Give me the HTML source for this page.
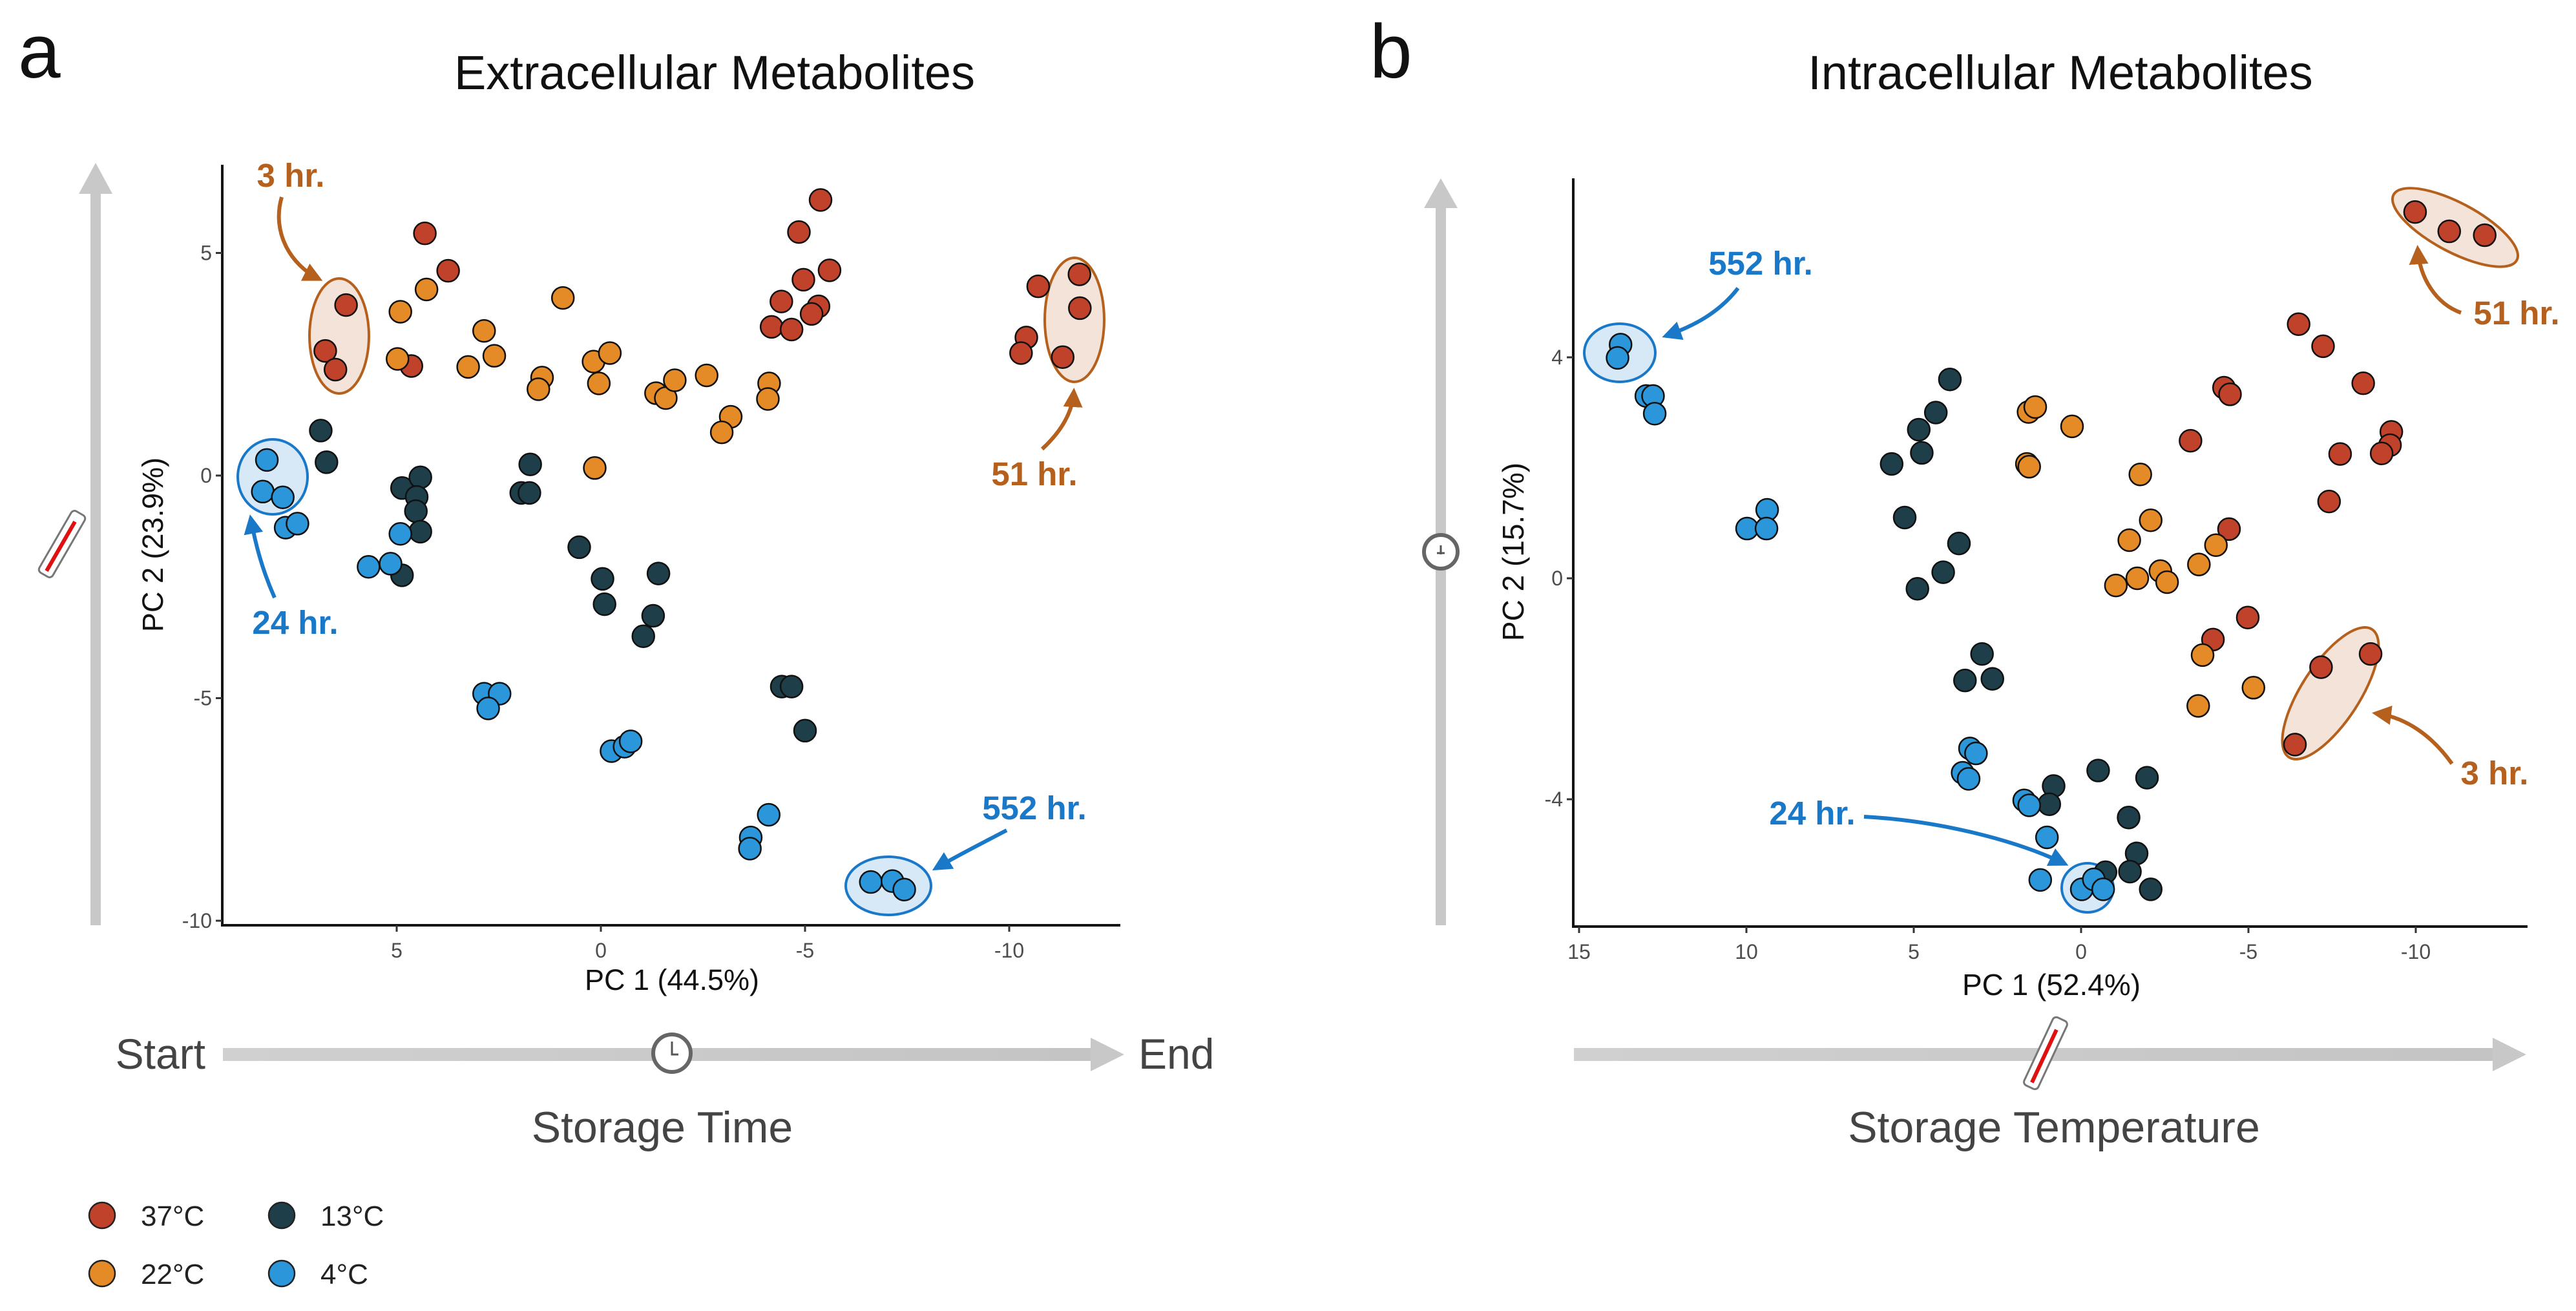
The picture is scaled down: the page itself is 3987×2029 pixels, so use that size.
<!DOCTYPE html>
<html><head><meta charset="utf-8"><style>
html,body{margin:0;padding:0;background:#fff;}
svg{display:block;font-family:"Liberation Sans",sans-serif;}
</style></head><body>
<svg id="fig" width="3987" height="2029" viewBox="0 0 3987 2029" xmlns="http://www.w3.org/2000/svg">
<defs>
<linearGradient id="gh" x1="0" x2="1"><stop offset="0" stop-color="#d0d0d0"/><stop offset="1" stop-color="#c4c4c4"/></linearGradient>
<marker id="ab" viewBox="0 0 10 10" refX="8" refY="5" markerWidth="5" markerHeight="5" orient="auto"><path d="M0,0 L10,5 L0,10 z" fill="#1a78c9"/></marker>
<marker id="ao" viewBox="0 0 10 10" refX="8" refY="5" markerWidth="5" markerHeight="5" orient="auto"><path d="M0,0 L10,5 L0,10 z" fill="#b5601c"/></marker>
</defs>
<text x="28" y="120" font-size="118" fill="#111">a</text>
<text x="2120" y="120" font-size="118" fill="#111">b</text>
<text x="1106" y="138" font-size="74" text-anchor="middle" fill="#111">Extracellular Metabolites</text>
<text x="3189" y="138" font-size="74" text-anchor="middle" fill="#111">Intracellular Metabolites</text>

<g>
<rect x="140" y="290" width="16" height="1142" fill="#c8c8c8"/>
<path d="M122,300 L148,252 L174,300 Z" fill="#c8c8c8"/>
</g>
<g transform="translate(96,842) rotate(30)">
<rect x="-12" y="-55" width="24" height="110" rx="6" fill="#fff" stroke="#777" stroke-width="3"/>
<rect x="-3" y="-40" width="6" height="88" fill="#e01010"/>
</g>
<g>
<rect x="345" y="1622" width="1350" height="20" fill="url(#gh)"/>
<path d="M1688,1606 L1740,1632 L1688,1658 Z" fill="#c8c8c8"/>
</g>
<g>
<circle cx="1040" cy="1630" r="29" fill="#fff" stroke="#666" stroke-width="6"/>
<path d="M1040,1612 L1040,1632 L1050,1632" stroke="#555" stroke-width="3" fill="none"/>
</g>
<text x="318" y="1654" font-size="66" text-anchor="end" fill="#444">Start</text>
<text x="1762" y="1654" font-size="66" fill="#444">End</text>
<text x="1025" y="1768" font-size="68" text-anchor="middle" fill="#444">Storage Time</text>

<g>
<rect x="2222" y="310" width="16" height="1122" fill="#c8c8c8"/>
<path d="M2204,322 L2230,276 L2256,322 Z" fill="#c8c8c8"/>
</g>
<g>
<circle cx="2230" cy="854" r="26" fill="#fff" stroke="#666" stroke-width="6"/>
<path d="M2230,844 L2230,858 M2224,856 L2236,856" stroke="#555" stroke-width="3"/>
</g>
<g>
<rect x="2436" y="1622" width="1430" height="20" fill="url(#gh)"/>
<path d="M3858,1606 L3910,1632 L3858,1658 Z" fill="#c8c8c8"/>
</g>
<g transform="translate(3166,1630) rotate(25)">
<rect x="-12" y="-58" width="24" height="116" rx="6" fill="#fff" stroke="#777" stroke-width="3"/>
<rect x="-3" y="-40" width="6" height="90" fill="#e01010"/>
</g>
<text x="3179" y="1768" font-size="68" text-anchor="middle" fill="#444">Storage Temperature</text>

<g>
<circle cx="158" cy="1881" r="20" fill="#c1422b" stroke="#222" stroke-width="2.5"/>
<text x="218" y="1897" font-size="44" fill="#222">37°C</text>
<circle cx="436" cy="1881" r="20" fill="#1e3f4a" stroke="#222" stroke-width="2.5"/>
<text x="496" y="1897" font-size="44" fill="#222">13°C</text>
<circle cx="158" cy="1971" r="20" fill="#e48a26" stroke="#222" stroke-width="2.5"/>
<text x="218" y="1987" font-size="44" fill="#222">22°C</text>
<circle cx="436" cy="1971" r="20" fill="#2c96da" stroke="#222" stroke-width="2.5"/>
<text x="496" y="1987" font-size="44" fill="#222">4°C</text>
</g>

<g id="pa"></g>
<g id="pb"></g>
</svg>
<script>
const colors = ["#c1422b","#e48a26","#1e3f4a","#2c96da"];
// Panel A data (PC1, PC2) per temperature: 37,22,13,4
const aRedX=[4.31,3.74,6.24,6.75,6.50,4.64,-5.38,-4.85,-4.96,-5.60,-4.42,-4.18,-4.67,-5.33,-5.16,-10.71,-11.72,-11.73,-10.42,-10.29,-11.31];
const aRedY=[5.44,4.60,3.83,2.80,2.38,2.46,6.19,5.47,4.40,4.61,3.91,3.34,3.28,3.80,3.63,4.25,4.52,3.76,3.10,2.75,2.66];
const aOrX=[4.27,4.91,4.98,2.86,2.61,3.25,0.93,0.18,-0.22,0.05,1.44,1.53,0.15,-1.35,-1.59,-1.81,-2.59,-3.18,-2.96,-4.12,-4.09];
const aOrY=[4.18,3.68,2.62,3.25,2.69,2.44,3.99,2.56,2.75,2.07,2.20,1.94,0.17,1.85,1.74,2.14,2.25,1.32,0.97,2.07,1.72];
const aDkX=[6.86,6.72,4.87,4.42,4.51,4.53,4.42,4.87,1.73,1.95,1.75,0.53,-0.04,-0.09,-1.41,-1.28,-1.04,-4.43,-4.67,-5.00];
const aDkY=[1.01,0.30,-0.28,-0.04,-0.48,-0.80,-1.26,-2.24,0.25,-0.39,-0.39,-1.61,-2.32,-2.89,-2.20,-3.15,-3.61,-4.74,-4.74,-5.73];
const aBlX=[8.18,8.28,7.79,7.72,7.43,4.91,5.69,5.15,2.86,2.48,2.76,-0.26,-0.58,-0.73,-4.11,-3.67,-3.65,-6.61,-7.14,-7.43];
const aBlY=[0.35,-0.36,-0.49,-1.17,-1.08,-1.31,-2.05,-1.98,-4.90,-4.90,-5.23,-6.19,-6.09,-5.97,-7.62,-8.13,-8.38,-9.13,-9.11,-9.30];
const aXTicks=[5,0,-5,-10];
const aYTicks=[5,0,-5,-10];
// Panel B data
const bRedX=[-9.98,-11.0,-12.06,-6.50,-7.23,-8.43,-4.27,-4.45,-3.27,-9.27,-9.23,-8.98,-7.74,-7.41,-4.42,-4.98,-3.94,-7.17,-8.65,-6.39];
const bRedY=[6.63,6.28,6.21,4.60,4.20,3.53,3.45,3.33,2.49,2.65,2.41,2.26,2.25,1.39,0.89,-0.71,-1.11,-1.61,-1.37,-3.01];
const bOrX=[1.57,1.37,1.62,1.55,0.27,-1.77,-2.08,-1.44,-4.03,-3.52,-2.37,-2.57,-1.68,-1.04,-3.63,-5.15,-3.50];
const bOrY=[3.01,3.10,2.07,2.02,2.75,1.88,1.05,0.69,0.60,0.25,0.13,-0.07,0.00,-0.13,-1.39,-1.98,-2.31];
const bDkX=[3.92,4.34,4.85,4.76,5.66,5.27,3.65,4.12,4.89,2.96,3.47,2.65,-0.51,-1.97,0.82,0.95,-1.42,-1.66,-1.46,-0.73,-2.08];
const bDkY=[3.60,3.00,2.69,2.27,2.07,1.10,0.63,0.11,-0.19,-1.37,-1.85,-1.82,-3.48,-3.61,-3.76,-4.09,-4.33,-4.98,-5.31,-5.32,-5.63];
const bBlX=[13.76,13.85,12.99,12.79,12.74,9.38,9.98,9.40,3.32,3.14,3.54,3.36,1.70,1.55,1.02,1.22,-0.02,-0.38,-0.66];
const bBlY=[4.23,3.99,3.30,3.30,2.98,1.24,0.90,0.90,-3.08,-3.17,-3.52,-3.63,-4.02,-4.11,-4.69,-5.46,-5.63,-5.45,-5.63];
const bXTicks=[15,10,5,0,-5,-10];
const bYTicks=[4,0,-4];

const NS="http://www.w3.org/2000/svg";
function mk(parent,tag,attrs){const e=document.createElementNS(NS,tag);for(const k in attrs)e.setAttribute(k,attrs[k]);parent.appendChild(e);return e;}

function panel(g,cfg){
  const sx=v=>cfg.x0-cfg.kx*v, sy=v=>cfg.y0-cfg.ky*v;
  const ya=mk(g,'line',{x1:cfg.left,y1:cfg.top,x2:cfg.left,y2:cfg.bottom,stroke:'#111','stroke-width':4});
  
  
  const xa=mk(g,'line',{x1:cfg.left-2,y1:cfg.bottom,x2:cfg.right,y2:cfg.bottom,stroke:'#111','stroke-width':4});
  
  
  cfg.xt.forEach(t=>{
    const x=sx(t);
    const tk=mk(g,'line',{x1:x,y1:cfg.bottom,x2:x,y2:cfg.bottom+10,stroke:'#333','stroke-width':3});
    
    
    const tl=mk(g,'text',{x:x,y:cfg.bottom+50,'font-size':32,'text-anchor':'middle',fill:'#4d4d4d'});
    tl.textContent=String(t);
    
    
  });
  cfg.yt.forEach(t=>{
    const y=sy(t);
    const tk=mk(g,'line',{x1:cfg.left-10,y1:y,x2:cfg.left,y2:y,stroke:'#333','stroke-width':3});
    
    
    const tl=mk(g,'text',{x:cfg.left-16,y:y+11,'font-size':32,'text-anchor':'end',fill:'#4d4d4d'});
    tl.textContent=String(t);
    
    
  });
  const xl=mk(g,'text',{x:cfg.xlx,y:cfg.xly,'font-size':cfg.lfs,'text-anchor':'middle',fill:'#111'});
  xl.textContent=cfg.xlabel;
  
  
  const yl=mk(g,'text',{x:0,y:0,'font-size':cfg.lfs,'text-anchor':'middle',fill:'#111',transform:`translate(${cfg.ylx},${cfg.yly}) rotate(-90)`});
  yl.textContent=cfg.ylabel;
  
  
  cfg.ells.forEach(e=>{
    const el=mk(g,'ellipse',{cx:e[0],cy:e[1],rx:e[2],ry:e[3],transform:`rotate(${e[4]} ${e[0]} ${e[1]})`,fill:e[5]?'#f3e3d8':'#d7e8f6',stroke:e[5]?'#b5601c':'#1a78c9','stroke-width':4});
    
    
  });
  const names=['point-37c','point-22c','point-13c','point-4c'];
  cfg.series.forEach((s,i)=>{
    s[0].forEach((v,j)=>{
      const c=mk(g,'circle',{cx:sx(v),cy:sy(s[1][j]),r:17,fill:colors[i],stroke:'#111','stroke-width':2.5});
      
      
    });
  });
  cfg.notes.forEach(n=>{
    const a=mk(g,'path',{d:n.d,fill:'none',stroke:n.o?'#b5601c':'#1a78c9','stroke-width':6,'marker-end':n.o?'url(#ao)':'url(#ab)'});
    
    
    const t=mk(g,'text',{x:n.x,y:n.y,'font-size':51,'font-weight':'bold','text-anchor':'middle',fill:n.o?'#b5601c':'#1a78c9'});
    t.textContent=n.t;
    
    
  });
}

panel(document.getElementById('pa'),{
  x0:930,kx:63.2,y0:736,ky:68.9,left:344,top:255,bottom:1432,right:1734,lfs:45,
  xt:aXTicks,yt:aYTicks,xlabel:'PC 1 (44.5%)',ylabel:'PC 2 (23.9%)',xlx:1040,xly:1532,ylx:252,yly:843,
  series:[[aRedX,aRedY],[aOrX,aOrY],[aDkX,aDkY],[aBlX,aBlY]],
  ells:[[525,520,46,89,0,true,'ellipse-3hr'],[1663,495,46,96,0,true,'ellipse-51hr'],[422,738,54,58,0,false,'ellipse-24hr'],[1375,1371,66,45,0,false,'ellipse-552hr']],
  notes:[
    {t:'3 hr.',x:450,y:289,o:true,d:'M436,305 C420,360 450,410 494,432'},
    {t:'51 hr.',x:1601,y:751,o:true,d:'M1613,695 C1640,670 1660,640 1662,606'},
    {t:'24 hr.',x:457,y:981,o:false,d:'M425,925 C405,880 395,840 388,802'},
    {t:'552 hr.',x:1601,y:1268,o:false,d:'M1558,1285 C1520,1305 1480,1325 1448,1344'}
  ]
});
panel(document.getElementById('pb'),{
  x0:3221,kx:51.8,y0:895,ky:85.5,left:2435,top:276,bottom:1434,right:3912,lfs:46,
  xt:bXTicks,yt:bYTicks,xlabel:'PC 1 (52.4%)',ylabel:'PC 2 (15.7%)',xlx:3175,xly:1540,ylx:2358,yly:854,
  series:[[bRedX,bRedY],[bOrX,bOrY],[bDkX,bDkY],[bBlX,bBlY]],
  ells:[[3800,352,108,38,28,true,'ellipse-51hr'],[3607,1073,118,45,-57,true,'ellipse-3hr'],[2507,546,55,45,0,false,'ellipse-552hr'],[3231,1374,40,38,0,false,'ellipse-24hr']],
  notes:[
    {t:'552 hr.',x:2725,y:425,o:false,d:'M2690,446 C2660,485 2620,505 2578,520'},
    {t:'51 hr.',x:3895,y:502,o:true,d:'M3809,484 C3770,470 3745,430 3742,385'},
    {t:'3 hr.',x:3861,y:1214,o:true,d:'M3795,1182 C3765,1140 3725,1110 3677,1104'},
    {t:'24 hr.',x:2805,y:1276,o:false,d:'M2885,1264 C3000,1270 3120,1300 3196,1337'}
  ]
});
</script>
</body></html>
